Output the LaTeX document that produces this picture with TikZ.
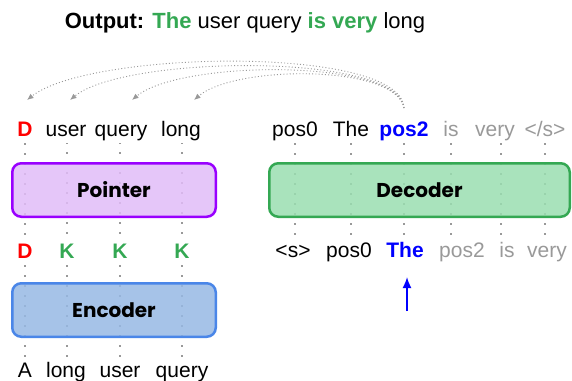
\documentclass[tikz,border=0pt]{standalone}
\usepackage{fontspec}
\setmainfont{Liberation Sans}
\newfontfamily\boxfont{Poppins}
\usetikzlibrary{arrows.meta}
\definecolor{kgreen}{HTML}{34A853}
\definecolor{dred}{HTML}{FF0000}
\definecolor{pblue}{HTML}{0000FF}
\definecolor{lgray}{HTML}{999999}
\definecolor{pointerfill}{HTML}{E1BCF8}
\definecolor{pointerline}{HTML}{9900FF}
\definecolor{encfill}{HTML}{96B8E4}
\definecolor{encline}{HTML}{4A86E8}
\definecolor{decfill}{HTML}{9ADEB0}
\definecolor{decline}{HTML}{34A853}

\begin{document}
\begin{tikzpicture}[x=1pt,y=-1pt,
	word/.style={anchor=base,font=\fontsize{21}{25}\selectfont,text height=15pt,text depth=4pt,inner sep=3pt},
	vdots/.style={color=lgray,line width=1.4pt,dash pattern=on 1.4pt off 8.6pt},
	arc/.style={color=lgray,line width=0.9pt,dash pattern=on 1pt off 2.2pt,-{Latex[length=6.5pt,width=5.5pt]}},
	block/.style={rounded corners=9pt,line width=2.5pt,minimum height=53.5pt,fill opacity=0.85,text opacity=1,font=\boxfont\bfseries\fontsize{20}{24}\selectfont}]
	\useasboundingbox (0,0) rectangle (572,380);

	\node[anchor=base,font=\fontsize{22}{26}\selectfont] (title) at (245,28) {\textbf{Output:} \textcolor{kgreen}{\textbf{The}} user query \textcolor{kgreen}{\textbf{is very}} long};

	\node[word,text=dred,font=\fontsize{21}{25}\selectfont\bfseries] (pD) at (25,136) {D};
	\node[word] (pUser) at (66,136) {user};
	\node[word] (pQuery) at (121,136) {query};
	\node[word] (pLong) at (181,136) {long};

	\node[word,text=dred,font=\fontsize{21}{25}\selectfont\bfseries] (kD) at (25,258) {D};
	\node[word,text=kgreen,font=\fontsize{21}{25}\selectfont\bfseries] (kUser) at (67,258) {K};
	\node[word,text=kgreen,font=\fontsize{21}{25}\selectfont\bfseries] (kQuery) at (120,258) {K};
	\node[word,text=kgreen,font=\fontsize{21}{25}\selectfont\bfseries] (kLong) at (182,258) {K};

	\node[word] (eA) at (25,377) {A};
	\node[word] (eLong) at (66,377) {long};
	\node[word] (eUser) at (120,377) {user};
	\node[word] (eQuery) at (182,377) {query};

	\node[word] (oPos0) at (295,136) {pos0};
	\node[word] (oThe) at (351,136) {The};
	\node[word,text=pblue,font=\fontsize{21}{25}\selectfont\bfseries] (oPos2) at (404,136) {pos2};
	\node[word,text=lgray] (oIs) at (451,136) {is};
	\node[word,text=lgray] (oVery) at (495,136) {very};
	\node[word,text=lgray] (oEnd) at (545,136) {</s>};

	\node[word] (iStart) at (293,257) {<s>};
	\node[word] (iPos0) at (349,257) {pos0};
	\node[word,text=pblue,font=\fontsize{21}{25}\selectfont\bfseries] (iThe) at (405,257) {The};
	\node[word,text=lgray] (iPos2) at (462,257) {pos2};
	\node[word,text=lgray] (iIs) at (507,257) {is};
	\node[word,text=lgray] (iVery) at (547,257) {very};

	\draw[vdots] (pD.south) -- (kD.north);
	\draw[vdots] (pUser.south) -- (pUser.south -| kUser.north) -- (kUser.north);
	\draw[vdots] (pQuery.south) -- (pQuery.south -| kQuery.north) -- (kQuery.north);
	\draw[vdots] (pLong.south) -- (pLong.south -| kLong.north) -- (kLong.north);
	\draw[vdots] (kD.south) -- (eA.north);
	\draw[vdots] (kUser.south) -- (kUser.south |- eLong.north);
	\draw[vdots] (kQuery.south) -- (kQuery.south |- eUser.north);
	\draw[vdots] (kLong.south) -- (kLong.south |- eQuery.north);

	\draw[vdots] (oPos0.south) -- (oPos0.south |- iStart.north);
	\draw[vdots] (oThe.south) -- (oThe.south |- iPos0.north);
	\draw[vdots] (oPos2.south) -- (oPos2.south |- iThe.north);
	\draw[vdots] (oIs.south) -- (oIs.south |- iPos2.north);
	\draw[vdots] ([xshift=6pt]oVery.south) -- ([xshift=6pt]oVery.south |- iIs.north);
	\draw[vdots] (oEnd.south) -- (oEnd.south |- iVery.north);

	\node[block,draw=pointerline,fill=pointerfill,minimum width=203.5pt] (pointer) at (114,190) {Pointer};
	\node[block,draw=encline,fill=encfill,minimum width=203.5pt] (encoder) at (114,310) {Encoder};
	\node[block,draw=decline,fill=decfill,minimum width=300.5pt] (decoder) at (419.5,190) {Decoder};

	\coordinate (src) at (404,108);
	\coordinate (tipD) at (27,100);
	\coordinate (tipUser) at (70,100);
	\coordinate (tipQuery) at (132,100);
	\coordinate (tipLong) at (194,100);

	\draw[arc] (src) .. controls (402,45) and (90,50) .. (tipD);
	\draw[arc] (src) .. controls (400,52) and (125,55) .. (tipUser);
	\draw[arc] (src) .. controls (398,58) and (180,60) .. (tipQuery);
	\draw[arc] (src) .. controls (396,64) and (235,65) .. (tipLong);

	\coordinate (qFoot) at (407,311);
	\coordinate (qTip) at (407,277);
	\draw[->,>={Latex[length=11pt,width=9pt]}, line width=0.6mm,color = pblue] (qFoot) -- (qTip);

\end{tikzpicture}
\end{document}
